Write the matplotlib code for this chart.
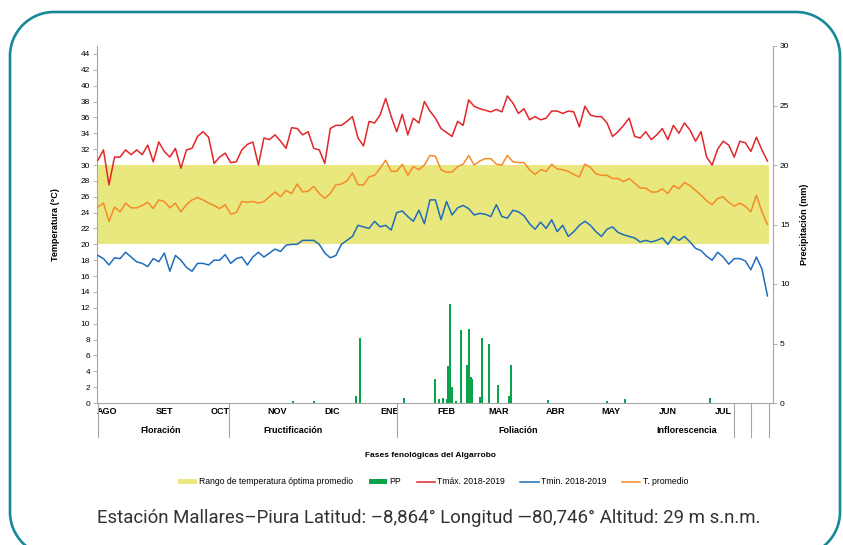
import numpy as np
import matplotlib
matplotlib.use("Agg")
import matplotlib.pyplot as plt
import matplotlib.transforms as mtransforms
from matplotlib.patches import Patch, PathPatch
from matplotlib.path import Path
from matplotlib.lines import Line2D

plt.rcParams["font.family"] = ["Liberation Sans", "DejaVu Sans"]

# Daily series read every 3 days, starting 1 Aug 2018 (day 0)
days = np.arange(0, 366, 3)

tmax = [
    30.6, 31.9, 27.5, 31.0, 31.0, 31.9, 31.3, 31.9, 31.3, 32.5, 30.4, 32.9, 31.7, 31.0, 32.1, 29.6, 31.9, 32.1, 33.6, 34.2,
    33.5, 30.2, 31.0, 31.5, 30.3, 30.4, 31.9, 32.6, 32.9, 30.0, 33.4, 33.2, 33.8, 33.0, 32.1, 34.7, 34.6, 33.8, 34.2, 32.1,
    31.9, 30.2, 34.6, 35.0, 35.0, 35.5, 36.1, 33.4, 32.4, 35.5, 35.3, 36.3, 38.4, 36.1, 34.2, 36.4, 33.8, 35.9, 35.3, 38.0,
    36.8, 35.9, 34.6, 34.1, 33.6, 35.5, 35.0, 38.2, 37.4, 37.1, 36.9, 36.7, 37.0, 36.7, 38.7, 37.8, 36.5, 37.1, 35.7, 36.1,
    35.7, 35.9, 36.8, 36.8, 36.5, 36.8, 36.7, 34.8, 37.4, 36.3, 36.1, 36.1, 35.3, 33.6, 34.2, 35.0, 35.9, 33.6, 33.4, 34.2,
    33.2, 33.8, 34.6, 33.2, 35.0, 34.0, 35.3, 34.4, 33.0, 34.2, 31.0, 30.0, 32.0, 33.0, 32.5, 31.0, 33.0, 32.8, 31.7, 33.5,
    31.9, 30.5,
]
tavg = [
    24.7, 25.2, 22.9, 24.7, 24.1, 25.2, 24.6, 24.6, 24.9, 25.3, 24.5, 25.6, 25.4, 24.6, 25.2, 24.1, 25.0, 25.6, 25.9, 25.6,
    25.2, 24.9, 24.5, 25.0, 23.8, 24.0, 25.4, 25.3, 25.4, 25.2, 25.4, 26.0, 26.6, 26.0, 26.8, 26.4, 27.6, 26.6, 26.7, 27.3,
    26.4, 25.8, 26.4, 27.5, 27.6, 28.0, 29.0, 27.5, 27.5, 28.5, 28.7, 29.6, 30.6, 29.2, 29.2, 30.1, 28.7, 29.8, 29.4, 30.0,
    31.2, 31.1, 29.4, 29.1, 29.1, 29.8, 30.1, 31.2, 30.0, 30.5, 30.8, 30.8, 30.1, 30.0, 31.2, 30.4, 30.3, 30.3, 29.4, 28.8,
    29.4, 29.2, 30.1, 29.5, 29.4, 29.2, 28.8, 28.5, 30.1, 29.7, 28.9, 28.7, 28.7, 28.3, 28.3, 27.9, 28.3, 27.7, 27.1, 27.1,
    26.6, 26.6, 27.0, 26.4, 27.4, 27.0, 27.8, 27.4, 26.8, 26.2, 25.5, 25.0, 25.8, 26.0, 25.3, 24.8, 25.2, 24.8, 24.1, 26.2,
    24.1, 22.5,
]
tmin = [
    18.6, 18.2, 17.4, 18.3, 18.2, 19.0, 18.4, 17.8, 17.6, 17.2, 18.2, 17.8, 18.9, 16.6, 18.6, 18.0, 17.1, 16.6, 17.6, 17.6,
    17.4, 18.0, 18.0, 18.7, 17.6, 18.2, 18.4, 17.4, 18.4, 19.0, 18.4, 18.9, 19.4, 19.1, 19.9, 20.0, 20.0, 20.5, 20.5, 20.5,
    20.0, 18.9, 18.3, 18.6, 20.0, 20.5, 21.0, 22.4, 22.2, 22.0, 22.9, 22.2, 22.4, 21.8, 24.0, 24.2, 23.5, 22.9, 24.3, 22.6,
    25.6, 25.6, 23.1, 25.4, 23.7, 24.6, 24.9, 24.5, 23.7, 23.9, 23.8, 23.5, 25.0, 23.5, 23.3, 24.3, 24.1, 23.6, 22.6, 21.9,
    22.8, 22.0, 23.1, 21.6, 22.4, 21.0, 21.6, 22.4, 22.9, 22.4, 21.6, 21.0, 21.9, 22.2, 21.5, 21.2, 21.0, 20.8, 20.3, 20.5,
    20.3, 20.5, 20.8, 20.0, 21.0, 20.5, 21.0, 20.3, 19.5, 19.2, 18.5, 18.0, 19.0, 18.4, 17.5, 18.2, 18.2, 17.9, 16.8, 18.4,
    16.9, 13.5,
]

# Precipitation (mm), day index from 1 Aug 2018
pp_days = [106, 117, 140, 142, 166, 183, 185, 187, 189, 190, 191, 192, 194, 197,
           200, 201, 202, 203, 207, 208, 212, 217, 223, 224, 244, 276, 286, 332]
pp_mm = [0.15, 0.15, 0.6, 5.5, 0.45, 2.0, 0.35, 0.4, 0.3, 3.1, 8.35, 1.35, 0.2, 6.1,
         3.2, 6.2, 2.2, 2.0, 0.5, 5.5, 5.0, 1.5, 0.55, 3.2, 0.25, 0.2, 0.3, 0.4]

band_low, band_high = 20, 30

months = ["AGO", "SET", "OCT", "NOV", "DIC", "ENE", "FEB", "MAR", "ABR", "MAY", "JUN", "JUL"]
month_start = [0, 31, 61, 92, 122, 153, 184, 212, 243, 273, 304, 334]

phases = ["Floración", "Fructificación", "Foliación", "Inflorescencia"]
phase_center = [34, 106, 228, 319]
phase_breaks = [0, 71, 162, 345, 354, 364]

c_band = "#e8e87e"
c_pp = "#0aa24b"
c_max = "#e2262a"
c_min = "#1f6cbc"
c_avg = "#f58b2a"
c_axis = "#a6a6a6"

fig = plt.figure(figsize=(8.43, 5.45), dpi=100)

# rounded teal frame in pixel units (bottom edge runs off the image)
bg = fig.add_axes([0, 0, 1, 1], zorder=-5)
bg.set_xlim(0, 843)
bg.set_ylim(545, 0)
bg.axis("off")
x0, x1, y0, y1, r = 10, 840, 12, 556, 44
k = 0.5523 * r
verts = [
    (x0 + r, y1),
    (x0 + r - k, y1), (x0, y1 - r + k), (x0, y1 - r),
    (x0, y0 + r),
    (x0, y0 + r - k), (x0 + r - k, y0), (x0 + r, y0),
    (x1 - r, y0),
    (x1 - r + k, y0), (x1, y0 + r - k), (x1, y0 + r),
    (x1, y1 - r),
    (x1, y1 - r + k), (x1 - r + k, y1), (x1 - r, y1),
]
codes = [
    Path.MOVETO,
    Path.CURVE4, Path.CURVE4, Path.CURVE4,
    Path.LINETO,
    Path.CURVE4, Path.CURVE4, Path.CURVE4,
    Path.LINETO,
    Path.CURVE4, Path.CURVE4, Path.CURVE4,
    Path.LINETO,
    Path.CURVE4, Path.CURVE4, Path.CURVE4,
]
bg.add_patch(PathPatch(Path(verts, codes), fill=False, ec="#17879a", lw=1.9, clip_on=False))

ax = fig.add_axes([97 / 843, 1 - 403 / 545, 676 / 843, 357 / 545])
ax2 = ax.twinx()
ax.set_zorder(2)
ax.patch.set_visible(False)

ax2.bar(pp_days, pp_mm, width=1.1, color=c_pp, zorder=2)
ax2.set_ylim(0, 30)
ax2.set_yticks(range(0, 31, 5))

ax.fill_between([0, 364], band_low, band_high, color=c_band, lw=0, zorder=1)
ax.plot(days, tmax, color=c_max, lw=1.1, zorder=3)
ax.plot(days, tmin, color=c_min, lw=1.1, zorder=3)
ax.plot(days, tavg, color=c_avg, lw=1.1, zorder=3)

ax.set_xlim(-0.5, 366)
ax.set_ylim(0, 45)
ax.set_yticks(range(0, 45, 2))
ax.set_xticks([m + 5 for m in month_start])
ax.set_xticklabels(months, fontweight="bold", fontsize=6.5)
ax.tick_params(axis="x", length=0, pad=3)

for a in (ax, ax2):
    for s in a.spines.values():
        s.set_color(c_axis)
        s.set_linewidth(0.8)
    a.spines["top"].set_visible(False)
    a.tick_params(axis="y", direction="out", length=3, width=0.6, color=c_axis,
                  labelsize=6, pad=2)
ax.spines["right"].set_visible(False)
ax2.spines["left"].set_visible(False)
ax2.spines["bottom"].set_visible(False)

ax.set_ylabel("Temperatura (°C)", fontweight="bold", fontsize=6.5)
ax.yaxis.set_label_coords(-0.055, 0.5)
ax2.set_ylabel("Precipitación (mm)", fontweight="bold", fontsize=6.5)
ax2.yaxis.set_label_coords(1.04, 0.5)

trans = mtransforms.blended_transform_factory(ax.transData, ax.transAxes)
for d in phase_breaks:
    ax.plot([d, d], [0, -0.095], transform=trans, color=c_axis, lw=0.8, clip_on=False)
for name, c in zip(phases, phase_center):
    ax.text(c, -0.076, name, transform=trans, ha="center", va="center",
            fontsize=6.5, fontweight="bold")
ax.text(0.4926, -0.146, "Fases fenológicas del Algarrobo", transform=ax.transAxes,
        ha="center", va="center", fontsize=6, fontweight="bold")

handles = [
    Patch(color=c_band, lw=0),
    Patch(color=c_pp, lw=0),
    Line2D([], [], color=c_max, lw=1.1),
    Line2D([], [], color=c_min, lw=1.1),
    Line2D([], [], color=c_avg, lw=1.1),
]
labels = ["Rango de temperatura óptima promedio", "PP", "Tmáx. 2018-2019",
          "Tmin. 2018-2019", "T. promedio"]
fig.legend(handles, labels, loc="center", bbox_to_anchor=(0.514, 1 - 482 / 545), ncol=5,
           frameon=False, fontsize=6.2, handlelength=2.1, handleheight=0.6,
           handletextpad=0.3, columnspacing=1.8)

fig.text(97 / 843, 1 - 518 / 545,
         "Estación Mallares–Piura Latitud: –8,864° Longitud —80,746° Altitud: 29 m s.n.m.",
         ha="left", va="center", fontsize=13.4, color="#333333", family=["Roboto", "DejaVu Sans"])

fig.savefig("out.png", dpi=100)
